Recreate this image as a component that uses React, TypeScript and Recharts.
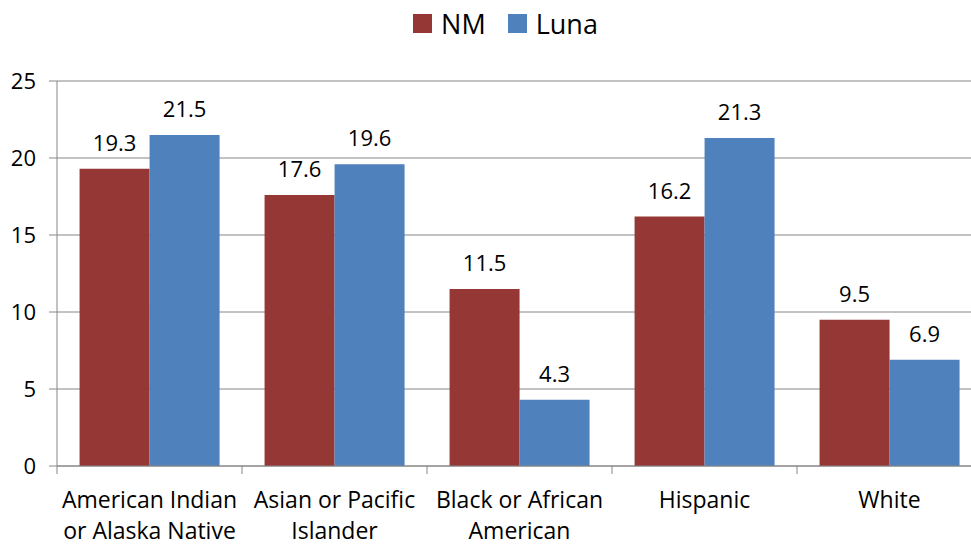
import { BarChart, Bar, XAxis, YAxis, CartesianGrid, Legend, LabelList } from "recharts";

const categories = [
  ["American Indian", "or Alaska Native"],
  ["Asian or Pacific", "Islander"],
  ["Black or African", "American"],
  ["Hispanic"],
  ["White"],
];
const nmValues = [19.3, 17.6, 11.5, 16.2, 9.5];
const lunaValues = [21.5, 19.6, 4.3, 21.3, 6.9];
const yTicks = [0, 5, 10, 15, 20, 25];

const NM_COLOR = "#953735";
const LUNA_COLOR = "#4F81BD";
const AXIS_COLOR = "#868686";
const FONT = "'Open Sans', sans-serif";

const data = categories.map((c, i) => ({ name: c.join(" "), NM: nmValues[i], Luna: lunaValues[i] }));

const CHART_W = 990;
const PLOT_LEFT = 57;
const PLOT_RIGHT = 982;
const BAND = (PLOT_RIGHT - PLOT_LEFT) / categories.length;
const LEGEND_H = 46;

function CategoryTick({ x, y, index }: any) {
  const lines = categories[index] || [];
  const left = x - BAND / 2;
  return (
    <g>
      <line x1={left} y1={y} x2={left} y2={y + 8} stroke={AXIS_COLOR} strokeWidth={1} />
      {index === categories.length - 1 && (
        <line x1={left + BAND} y1={y} x2={left + BAND} y2={y + 8} stroke={AXIS_COLOR} strokeWidth={1} />
      )}
      <text x={x} y={y} textAnchor="middle" fill="#000" fontSize={23} fontFamily={FONT}>
        {lines.map((l: string, i: number) => (
          <tspan key={i} x={x} y={y + 42 + i * 31}>{l}</tspan>
        ))}
      </text>
    </g>
  );
}

function TopLegend() {
  const items = [
    { name: "NM", color: NM_COLOR },
    { name: "Luna", color: LUNA_COLOR },
  ];
  return (
    <div style={{ display: "flex", justifyContent: "center", alignItems: "center", height: LEGEND_H, fontFamily: FONT, fontSize: 27, color: "#000", paddingLeft: 62 }}>
      {items.map((it) => (
        <div key={it.name} style={{ display: "flex", alignItems: "center", marginRight: 22 }}>
          <span style={{ display: "inline-block", width: 19, height: 19, backgroundColor: it.color, marginRight: 9 }} />
          <span>{it.name}</span>
        </div>
      ))}
    </div>
  );
}

export default function App() {
  return (
    <div style={{ position: "absolute", left: 0, top: 0, width: 971, height: 546, overflow: "hidden", background: "#fff" }}>
      <BarChart
        width={CHART_W}
        height={546}
        data={data}
        margin={{ top: 81 - LEGEND_H, right: CHART_W - PLOT_RIGHT, bottom: 10, left: 0 }}
        barCategoryGap="12.2%"
        barGap={0}
      >
        <CartesianGrid vertical={false} stroke={AXIS_COLOR} strokeWidth={1} />
        <XAxis
          dataKey="name"
          interval={0}
          height={70}
          tickLine={false}
          tickSize={0}
          tickMargin={0}
          axisLine={{ stroke: AXIS_COLOR }}
          tick={<CategoryTick />}
        />
        <YAxis
          width={PLOT_LEFT}
          domain={[0, 25]}
          ticks={yTicks}
          interval={0}
          tickSize={8}
          tickMargin={13}
          axisLine={{ stroke: AXIS_COLOR }}
          tickLine={{ stroke: AXIS_COLOR }}
          tick={{ fill: "#000", fontSize: 22, fontFamily: FONT }}
        />
        <Legend
          verticalAlign="top"
          content={<TopLegend />}
          wrapperStyle={{ position: "absolute", top: 0, left: 0, width: 971, height: LEGEND_H }}
        />
        <Bar dataKey="NM" fill={NM_COLOR} isAnimationActive={false}>
          <LabelList dataKey="NM" position="top" offset={18} fill="#000" fontSize={22} fontFamily={FONT} />
        </Bar>
        <Bar dataKey="Luna" fill={LUNA_COLOR} isAnimationActive={false}>
          <LabelList dataKey="Luna" position="top" offset={18} fill="#000" fontSize={22} fontFamily={FONT} />
        </Bar>
      </BarChart>
    </div>
  );
}
